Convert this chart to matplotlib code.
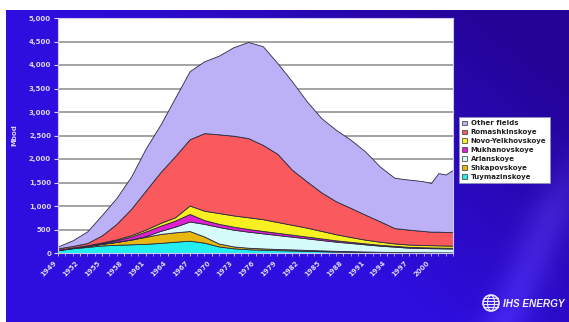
import numpy as np
import matplotlib
matplotlib.use('Agg')
import matplotlib.pyplot as plt
from matplotlib.patches import Patch, Circle, Ellipse
from matplotlib.ticker import FuncFormatter, MultipleLocator

# production by field, Mbod
years = [1949, 1951, 1953, 1955, 1957, 1959, 1961, 1963, 1965, 1967, 1969, 1971, 1973,
         1975, 1977, 1979, 1981, 1983, 1985, 1987, 1989, 1991, 1993, 1995, 1997,
         1998, 1999, 2000, 2001, 2002, 2003]

tuymazinskoye = [60, 100, 130, 160, 175, 185, 195, 215, 240, 262, 220, 140, 100,
                 80, 70, 60, 55, 45, 38, 30, 25, 20, 16, 13, 10,
                 10, 9, 8, 8, 7, 7]
shkapovskoye = [5, 10, 20, 35, 60, 100, 150, 190, 200, 205, 130, 60, 40,
                32, 28, 25, 22, 20, 18, 16, 14, 12, 10, 9, 8,
                7, 7, 6, 6, 6, 5]
arlanskoye = [0, 0, 0, 0, 2, 5, 15, 65, 120, 203, 270, 353, 356,
              342, 320, 298, 270, 247, 220, 195, 174, 152, 130, 113, 95,
              93, 90, 88, 86, 84, 83]
mukhanovskoye = [0, 2, 5, 15, 33, 60, 100, 110, 130, 160, 80, 67, 64,
                 56, 52, 47, 43, 38, 34, 29, 25, 21, 19, 17, 17,
                 16, 16, 16, 15, 15, 15]
novo_yelkhovskoye = [5, 6, 10, 15, 20, 30, 40, 60, 70, 180, 200, 230, 240,
                     250, 250, 230, 210, 190, 160, 130, 102, 79, 65, 53, 50,
                     49, 48, 48, 48, 48, 48]
romashkinskoye = [30, 32, 48, 150, 330, 560, 830, 1080, 1300, 1410, 1650, 1675, 1695,
                  1685, 1580, 1450, 1170, 985, 820, 700, 620, 531, 435, 325, 316,
                  307, 298, 288, 291, 287, 289]
other_fields = [40, 120, 247, 434, 553, 687, 897, 1010, 1240, 1450, 1530, 1675, 1885,
                2045, 2100, 1930, 1880, 1705, 1580, 1520, 1450, 1345, 1165, 1070, 1064,
                1063, 1057, 1036, 1246, 1223, 1323]

# stacking order, bottom first
series = [tuymazinskoye, shkapovskoye, arlanskoye, mukhanovskoye,
          novo_yelkhovskoye, romashkinskoye, other_fields]
names = ['Tuymazinskoye', 'Shkapovskoye', 'Arlanskoye', 'Mukhanovskoye',
         'Novo-Yelkhovskoye', 'Romashkinskoye', 'Other fields']
colors = ['#22eef0', '#e8b810', '#d6fbfb', '#e020d0', '#f8f020', '#fa5a5e', '#bcb0f6']

yticks = list(range(0, 5001, 500))
xlabel_years = list(range(1949, 2001, 3))

W, H = 569, 322
fig = plt.figure(figsize=(W / 100, H / 100), dpi=100)
fig.patch.set_facecolor('white')

# blue backdrop with a darker top-right corner and a faint light streak
bg = fig.add_axes([6 / W, 0, 1 - 6 / W, (H - 10) / H])
bh, bw = H - 10, W - 6
yy, xx = np.mgrid[0:bh, 0:bw]
u = xx / bw
v = yy / bh
dark = np.clip(u * 1.3 - v * 0.9 - 0.1, 0, 1)[..., None]
bright = np.array([46, 14, 222]) / 255
deep = np.array([36, 4, 150]) / 255
img = bright * (1 - dark) + deep * dark
d = (xx - 560) * 0.92 + (yy - 170) * 0.4
streak = np.exp(-(d / 22.0) ** 2) * np.clip((yy - 120) / 80, 0, 1) * 0.18
img = img + streak[..., None] * np.array([0.5, 0.5, 0.6])
bg.imshow(np.clip(img, 0, 1), aspect='auto', extent=[0, 1, 0, 1])
bg.axis('off')

ax = fig.add_axes([58 / W, 1 - 253 / H, (453 - 58) / W, (253 - 18) / H])
ax.set_facecolor('white')
ax.stackplot(years, *series, colors=colors, edgecolor='#2a2a40', linewidth=0.6)

ax.set_xlim(1949, 2003)
ax.set_ylim(0, 5000)
ax.set_yticks(yticks)
ax.yaxis.set_major_formatter(FuncFormatter(lambda v, p: f'{int(v):,}'))
ax.set_xticks(xlabel_years)
ax.set_xticklabels([str(y) for y in xlabel_years], rotation=45, ha='right', va='top')
ax.xaxis.set_minor_locator(MultipleLocator(1))
ax.yaxis.grid(True, color='#9c9c9c', linewidth=1.3)
ax.set_axisbelow(True)

lab = '#dcd6ff'
ax.tick_params(axis='y', colors=lab, labelsize=5, length=3, width=0.8, pad=2)
ax.tick_params(axis='x', which='major', colors=lab, labelsize=5, length=2, width=0.6, pad=3)
ax.tick_params(axis='x', which='minor', colors='#b8a8ff', length=2, width=0.6)
for t in ax.get_xticklabels() + ax.get_yticklabels():
    t.set_fontweight('bold')
for s in ax.spines.values():
    s.set_color('#cfc8f0')
    s.set_linewidth(0.8)

fig.text(14 / W, 1 - 135 / H, 'Mbod', rotation=90, ha='center', va='center',
         color=lab, fontsize=5, fontweight='bold')

handles = [Patch(facecolor=c, edgecolor='#333333', linewidth=0.5, label=n)
           for c, n in zip(colors, names)][::-1]
leg = fig.legend(handles=handles, loc='upper left',
                 bbox_to_anchor=(459 / W, 1 - 117 / H), frameon=True, framealpha=1,
                 fontsize=5, handlelength=0.7, handleheight=0.7, handletextpad=0.5,
                 labelspacing=0.42, borderpad=0.5, borderaxespad=0, fancybox=False)
leg.get_frame().set_facecolor('white')
leg.get_frame().set_edgecolor('#9090c0')
leg.get_frame().set_linewidth(0.6)
for t in leg.get_texts():
    t.set_fontweight('bold')
    t.set_color('#202020')

# logo: small globe and name
lg = fig.add_axes([0, 0, 1, 1], facecolor='none')
lg.set_xlim(0, W)
lg.set_ylim(H, 0)
lg.axis('off')
gx, gy = 491, 303
lg.add_patch(Circle((gx, gy), 8, facecolor='none', edgecolor='#e8e8ff', linewidth=1.2))
for k in (-5, -2, 1, 4):
    lg.plot([gx - 7, gx + 7], [gy + k, gy + k], color='#e8e8ff', lw=0.8)
lg.add_patch(Ellipse((gx, gy), 7, 15, facecolor='none', edgecolor='#e8e8ff', linewidth=0.8))
lg.text(503, gy + 1, 'IHS ENERGY', color='#f0f0ff', fontsize=7.2, fontweight='bold',
        fontstyle='italic', family='Liberation Sans', ha='left', va='center')

fig.savefig('out.png', dpi=100)
